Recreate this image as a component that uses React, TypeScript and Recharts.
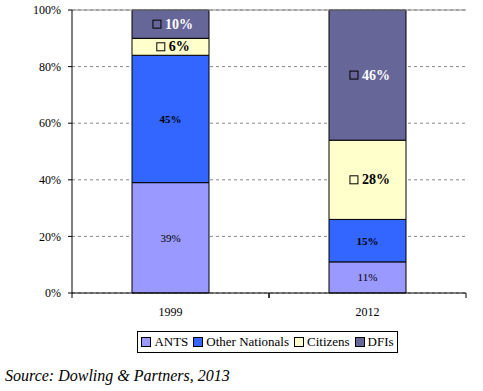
import React from "react";
import { BarChart, Bar, XAxis, YAxis, CartesianGrid, ReferenceLine, LabelList } from "recharts";

const years = ["1999", "2012"];
const ants = [39, 11];
const otherNationals = [45, 15];
const citizens = [6, 28];
const dfis = [10, 46];
const yTicks = [0, 20, 40, 60, 80, 100];

const SERIES = [
  { key: "ants", name: "ANTS", color: "#9999FF" },
  { key: "other", name: "Other Nationals", color: "#3366FF" },
  { key: "citizens", name: "Citizens", color: "#FFFFCC" },
  { key: "dfis", name: "DFIs", color: "#666699" },
];

const data = years.map((year, i) => ({
  year,
  ants: ants[i],
  other: otherNationals[i],
  citizens: citizens[i],
  dfis: dfis[i],
}));

const FONT = "'Liberation Serif', 'Times New Roman', serif";

const makeLabel =
  (opts: { size: number; bold: boolean; color: string; box: boolean }) =>
  (props: any) => {
    const { x, y, width, height, value } = props;
    const cx = x + width / 2;
    const cy = y + height / 2;
    const text = `${value}%`;
    if (!opts.box) {
      return (
        <text
          x={cx}
          y={cy}
          textAnchor="middle"
          dominantBaseline="central"
          fontFamily={FONT}
          fontSize={opts.size}
          fontWeight={opts.bold ? "bold" : "normal"}
          fill={opts.color}
        >
          {text}
        </text>
      );
    }
    const tw = text.length * opts.size * 0.55;
    const total = 8 + 4 + tw;
    const left = cx - total / 2;
    return (
      <g>
        <rect x={left} y={cy - 4} width={8} height={8} fill="none" stroke="#000" strokeWidth={1} />
        <text
          x={left + 12}
          y={cy}
          textAnchor="start"
          dominantBaseline="central"
          fontFamily={FONT}
          fontSize={opts.size}
          fontWeight="bold"
          fill={opts.color}
        >
          {text}
        </text>
      </g>
    );
  };

const labelStyles: Record<string, any> = {
  ants: makeLabel({ size: 11, bold: false, color: "#000", box: false }),
  other: makeLabel({ size: 11, bold: true, color: "#000", box: false }),
  citizens: makeLabel({ size: 14, bold: true, color: "#000", box: true }),
  dfis: makeLabel({ size: 14, bold: true, color: "#fff", box: true }),
};

// category tick: label in the middle, tick marks on the band edges
const YearTick = (props: any) => {
  const { x, y, payload } = props;
  const half = payload.offset || 0;
  return (
    <g>
      <line x1={x - half} y1={y} x2={x - half} y2={y + 5} stroke="#000" />
      <line x1={x + half} y1={y} x2={x + half} y2={y + 5} stroke="#000" />
      <text x={x} y={y + 19} textAnchor="middle" dominantBaseline="central" fontFamily={FONT} fontSize={12} fill="#000">
        {payload.value}
      </text>
    </g>
  );
};

const App: React.FC = () => {
  return (
    <div style={{ position: "absolute", left: 0, top: 0, width: 483, height: 391, background: "#fff" }}>
      <BarChart
        width={483}
        height={391}
        data={data}
        margin={{ top: 10, right: 17, left: 12, bottom: 68 }}
        barCategoryGap={60}
      >
        <CartesianGrid vertical={false} stroke="#888" strokeDasharray="3 3" />
        <XAxis
          dataKey="year"
          height={30}
          axisLine={{ stroke: "#000" }}
          tickLine={false}
          tickSize={0}
          tickMargin={0}
          tick={<YearTick />}
        />
        <YAxis
          width={60}
          domain={[0, 100]}
          ticks={yTicks}
          tickFormatter={(v) => `${v}%`}
          axisLine={{ stroke: "#000" }}
          tickLine={{ stroke: "#000" }}
          tickSize={4}
          tickMargin={7}
          tick={{ fontFamily: FONT, fontSize: 12, fill: "#000" }}
        />
        <YAxis
          yAxisId="right"
          orientation="right"
          width={0}
          domain={[0, 100]}
          axisLine={{ stroke: "#888" }}
          tick={false}
          tickLine={false}
        />
        <ReferenceLine y={100} stroke="#888" />
        {SERIES.map((s) => (
          <Bar
            key={s.key}
            dataKey={s.key}
            name={s.name}
            stackId="a"
            fill={s.color}
            stroke="#000"
            strokeWidth={1}
            isAnimationActive={false}
          >
            <LabelList dataKey={s.key} content={labelStyles[s.key]} />
          </Bar>
        ))}
      </BarChart>
      <div
        style={{
          position: "absolute",
          left: 137,
          top: 331,
          width: 259,
          height: 20,
          border: "1px solid #000",
          display: "flex",
          alignItems: "center",
          justifyContent: "center",
          fontFamily: FONT,
          fontSize: 13,
          color: "#000",
          gap: 5,
        }}
      >
        {SERIES.map((s) => (
          <span key={s.key} style={{ display: "flex", alignItems: "center" }}>
            <span
              style={{
                display: "inline-block",
                width: 8,
                height: 8,
                background: s.color,
                border: "1px solid #000",
                marginRight: 3,
              }}
            />
            {s.name}
          </span>
        ))}
      </div>
      <div
        style={{
          position: "absolute",
          left: 5,
          top: 367,
          fontFamily: FONT,
          fontStyle: "italic",
          fontSize: 16,
          color: "#000",
          whiteSpace: "nowrap",
        }}
      >
        Source: Dowling &amp; Partners, 2013
      </div>
    </div>
  );
};

export default App;
